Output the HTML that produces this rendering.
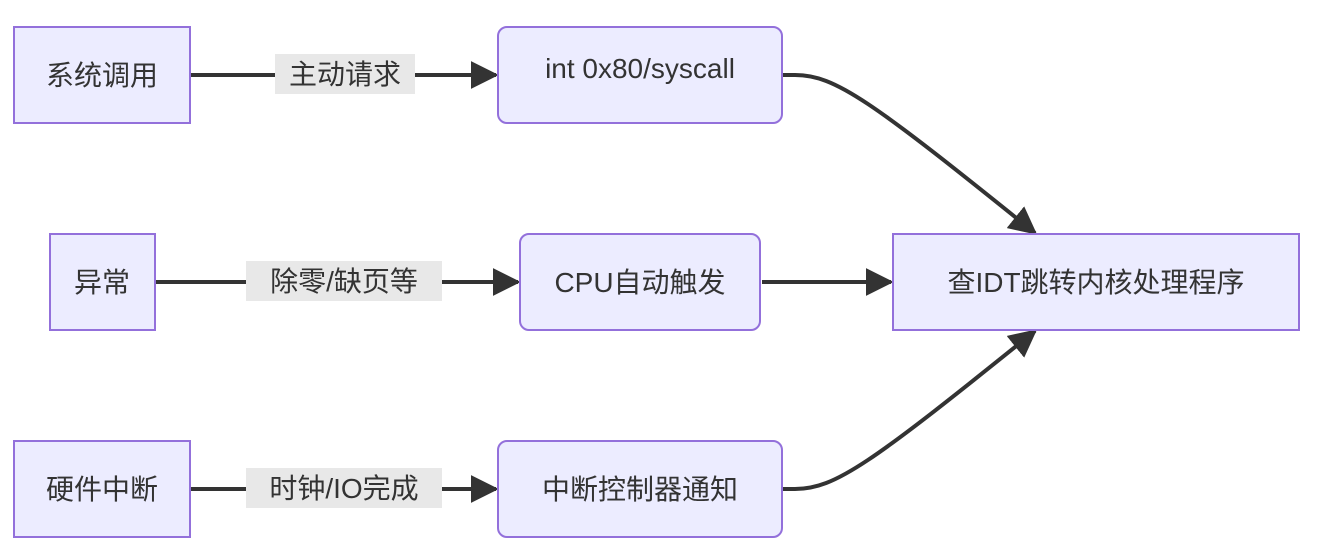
<!DOCTYPE html>
<html><head><meta charset="utf-8"><style>
body{margin:0;background:#fff;}
svg text{font-family:"Liberation Sans","Noto Sans CJK SC",sans-serif;font-size:28px;fill:#333;}
</style></head><body>
<svg width="1334" height="543" viewBox="0 0 1334 543" xmlns="http://www.w3.org/2000/svg">
<defs><marker id="a" markerWidth="12" markerHeight="12" refX="10" refY="6" orient="auto" markerUnits="userSpaceOnUse"><path d="M0,0 L0,0 L12,6 L0,12 z" fill="#333"/></marker>
<marker id="b" viewBox="0 0 10 10" refX="9" refY="5" markerWidth="28" markerHeight="28" orient="auto" markerUnits="userSpaceOnUse"><path d="M0,0 L10,5 L0,10 z" fill="#333"/></marker></defs>
<g stroke="#333" stroke-width="4" fill="none">
<path d="M190,75 L496,75" marker-end="url(#b)"/>
<path d="M155,282 L518,282" marker-end="url(#b)"/>
<path d="M190,489 L496,489" marker-end="url(#b)"/>
<path d="M762,282 L891,282" marker-end="url(#b)"/>
<path d="M782,75 L795,75 C835,75 870,100 1035,233" marker-end="url(#b)"/>
<path d="M782,489 L795,489 C835,489 870,464 1035,331" marker-end="url(#b)"/>
</g>
<g fill="#e8e8e8">
<rect x="275" y="54" width="140" height="40"/>
<rect x="246" y="261" width="196" height="40"/>
<rect x="246" y="468" width="196" height="40"/>
</g>
<g fill="#ececff" stroke="#9370db" stroke-width="2">
<rect x="14" y="27" width="176" height="96"/>
<rect x="498" y="27" width="284" height="96" rx="9"/>
<rect x="50" y="234" width="105" height="96"/>
<rect x="520" y="234" width="240" height="96" rx="9"/>
<rect x="893" y="234" width="406" height="96"/>
<rect x="14" y="441" width="176" height="96"/>
<rect x="498" y="441" width="284" height="96" rx="9"/>
</g>
<g text-anchor="middle">
<text x="102" y="85">系统调用</text>
<text x="345" y="84">主动请求</text>
<text x="640" y="78">int 0x80/syscall</text>
<text x="102" y="292">异常</text>
<text x="344" y="291">除零/缺页等</text>
<text x="640" y="292">CPU自动触发</text>
<text x="1096" y="292">查IDT跳转内核处理程序</text>
<text x="102" y="499">硬件中断</text>
<text x="344" y="498">时钟/IO完成</text>
<text x="640" y="499">中断控制器通知</text>
</g>
</svg>
</body></html>
